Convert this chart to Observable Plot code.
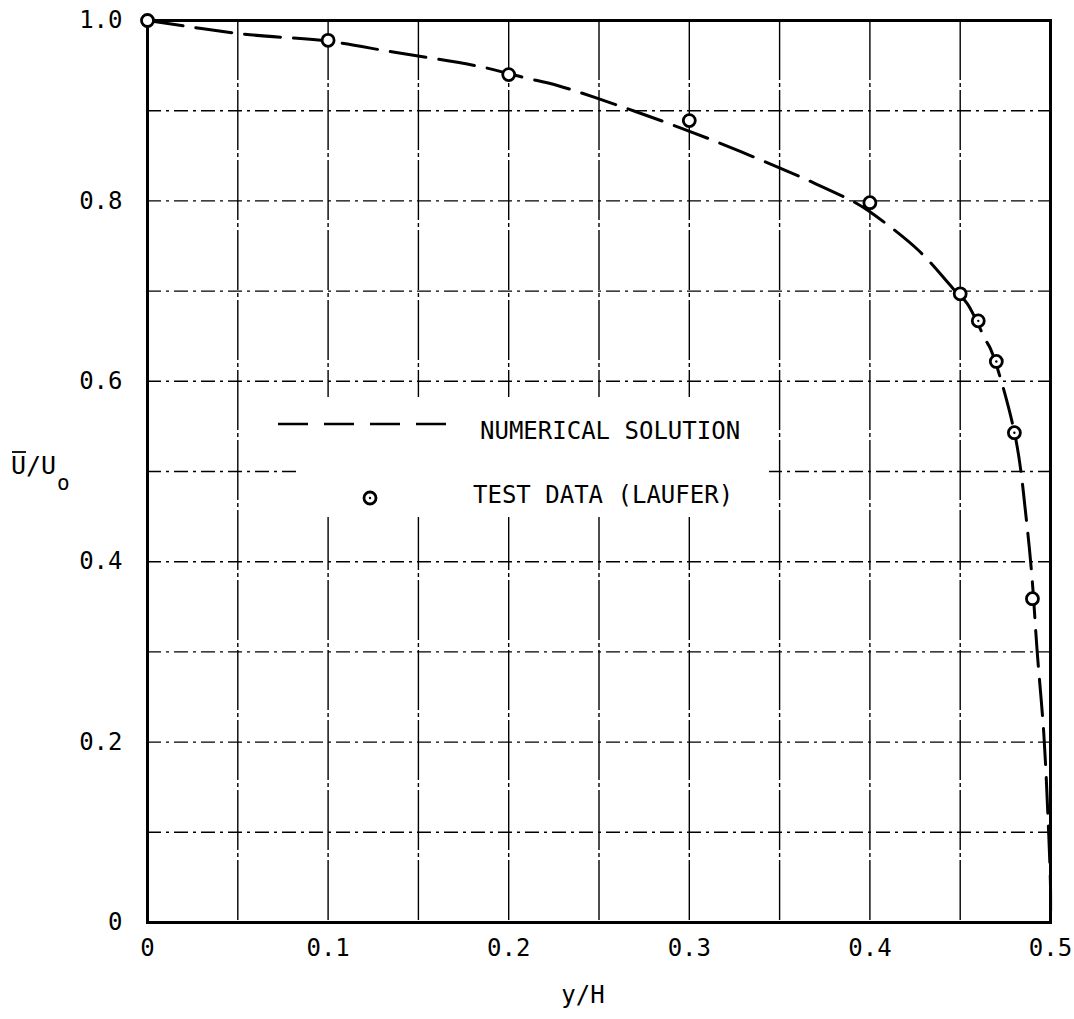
<!DOCTYPE html>
<html>
<head>
<meta charset="utf-8">
<script src="https://cdn.jsdelivr.net/npm/d3@7"></script>
<script src="https://cdn.jsdelivr.net/npm/@observablehq/plot@0.6"></script>
<style>
  html, body { margin: 0; padding: 0; background: white; }
</style>
</head>
<body>
<div id="chart"></div>
<script>
// Numerical solution (dashed curve)
const curveX = [0, 0.053, 0.1, 0.136, 0.184, 0.208, 0.227, 0.256, 0.287, 0.3145, 0.346, 0.37, 0.392, 0.4, 0.427, 0.446, 0.4539, 0.464, 0.4668, 0.4745, 0.4816, 0.4871, 0.4899, 0.4926, 0.4963, 0.4985, 0.5, 0.5];
const curveY = [1.0, 0.985, 0.977, 0.965, 0.949, 0.937, 0.928, 0.909, 0.887, 0.866, 0.840, 0.819, 0.798, 0.788, 0.745, 0.703, 0.686, 0.646, 0.636, 0.588, 0.527, 0.438, 0.379, 0.301, 0.209, 0.122, 0.04, 0];
// Test data (Laufer)
const testX = [0, 0.1, 0.2, 0.3, 0.4, 0.45, 0.46, 0.47, 0.48, 0.49];
const testY = [1.0, 0.978, 0.940, 0.889, 0.798, 0.697, 0.667, 0.622, 0.543, 0.359];
const testDotted = [false, false, false, false, false, false, true, true, true, false];
// Ticks and grid
const xTicks = [0, 0.1, 0.2, 0.3, 0.4, 0.5];
const yTicks = [0, 0.2, 0.4, 0.6, 0.8, 1.0];
const xGrid = [0.05, 0.1, 0.15, 0.2, 0.25, 0.3, 0.35, 0.4, 0.45];
const yGrid = [0.1, 0.2, 0.3, 0.4, 0.5, 0.6, 0.7, 0.8, 0.9];
const xLabel = "y/H";
const legendLine = "NUMERICAL SOLUTION";
const legendPoint = "TEST DATA (LAUFER)";

const curve = curveX.map((x, i) => ({x, y: curveY[i]}));
const test = testX.map((x, i) => ({x, y: testY[i], dot: testDotted[i]}));
const fmt = d => d === 0 ? "0" : d.toFixed(1);

const plot = Plot.plot({
  width: 1074,
  height: 1019,
  marginLeft: 147,
  marginRight: 24,
  marginTop: 20,
  marginBottom: 97,
  x: {domain: [0, 0.5]},
  y: {domain: [0, 1]},
  style: {fontFamily: "DejaVu Sans Mono", fontSize: "24px", background: "white", color: "black"},
  marks: [
    Plot.ruleX(xGrid, {stroke: "black", strokeWidth: 1.4, strokeDasharray: "60,3,4,3"}),
    Plot.ruleY(yGrid, {stroke: "black", strokeWidth: 1.4, strokeDasharray: "14,5,3,5"}),
    Plot.frame({stroke: "black", strokeWidth: 3}),
    Plot.line(curve, {x: "x", y: "y", stroke: "black", strokeWidth: 3, strokeDasharray: "36,13", curve: "catmull-rom"}),
    Plot.dot(test, {x: "x", y: "y", r: 6, stroke: "black", strokeWidth: 2.8, fill: "white"}),
    Plot.dot(test.filter(d => d.dot), {x: "x", y: "y", r: 1.2, fill: "black"}),
    Plot.axisX(xTicks, {tickSize: 0, tickPadding: 16, tickFormat: fmt, label: null}),
    Plot.axisY(yTicks, {tickSize: 0, tickPadding: 25, tickFormat: fmt, label: null}),
    Plot.text([xLabel], {frameAnchor: "bottom", dx: -16, dy: 80, text: d => d, fontSize: 24})
  ]
});
document.getElementById("chart").appendChild(plot);

const svg = d3.select(plot);
// Y axis label: U-bar / U_o
const yl = svg.append("g").attr("font-family", "DejaVu Sans Mono").attr("fill", "black").attr("text-anchor", "start");
yl.append("text").attr("x", 11).attr("y", 474).attr("font-size", 25).text("U/U");
yl.append("line").attr("x1", 12).attr("x2", 26).attr("y1", 452).attr("y2", 452).attr("stroke", "black").attr("stroke-width", 1.8);
yl.append("text").attr("x", 57).attr("y", 490).attr("font-size", 21).text("o");

// Legend
const lg = svg.append("g").attr("font-family", "DejaVu Sans Mono").attr("fill", "black").attr("text-anchor", "start");
lg.append("rect").attr("x", 301).attr("y", 397).attr("width", 468).attr("height", 120).attr("fill", "white");
lg.append("line").attr("x1", 278).attr("x2", 450).attr("y1", 424).attr("y2", 424)
  .attr("stroke", "black").attr("stroke-width", 2.6).attr("stroke-dasharray", "30,16");
lg.append("text").attr("x", 480).attr("y", 439).attr("font-size", 24).text(legendLine);
lg.append("circle").attr("cx", 370).attr("cy", 498).attr("r", 6).attr("fill", "white").attr("stroke", "black").attr("stroke-width", 2.8);
lg.append("circle").attr("cx", 370).attr("cy", 498).attr("r", 1.2).attr("fill", "black");
lg.append("text").attr("x", 473).attr("y", 503).attr("font-size", 24).text(legendPoint);
</script>
</body>
</html>
